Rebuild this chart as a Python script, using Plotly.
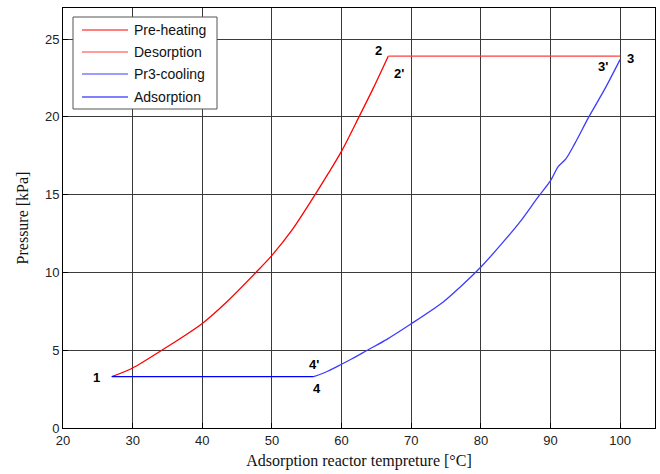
import plotly.graph_objects as go

# Cycle state points (temperature in °C, pressure in kPa)
P_LOW = 3.3
P_HIGH = 23.9

# 1 -> 2 : pre-heating (isosteric heating)
preheat_T = [27.0, 30.0, 34.4, 37.0, 40.0, 43.5, 47.7, 50.0, 53.0, 56.2, 58.0, 60.0, 62.5, 64.5, 66.7]
preheat_P = [3.3, 3.86, 5.06, 5.8, 6.72, 8.1, 10.0, 11.1, 12.8, 15.0, 16.3, 17.8, 20.0, 21.8, 23.9]

# 2 -> 3 : desorption (isobaric at condenser pressure)
desorp_T = [66.7, 100.0]
desorp_P = [P_HIGH, P_HIGH]

# 3 -> 4 : pre-cooling (isosteric cooling)
precool_T = [100.0, 97.8, 95.5, 93.5, 92.2, 91.1, 90.0, 88.3, 85.7, 83.0, 80.0,
             77.0, 74.6, 70.0, 66.5, 63.7, 61.5, 60.0, 58.0, 56.0]
precool_P = [23.7, 21.8, 20.0, 18.3, 17.3, 16.8, 15.9, 14.9, 13.3, 11.85, 10.35,
             9.05, 8.1, 6.7, 5.7, 5.0, 4.45, 4.1, 3.65, 3.3]

# 4 -> 1 : adsorption (isobaric at evaporator pressure)
adsorp_T = [56.0, 27.0]
adsorp_P = [P_LOW, P_LOW]

series_names = ["Pre-heating", "Desorption", "Pr3-cooling", "Adsorption"]
series_colors = ["#ff0000", "#ff3c3c", "#3c3cff", "#0000ff"]

x_ticks = [20, 30, 40, 50, 60, 70, 80, 90, 100]
y_ticks = [0, 5, 10, 15, 20, 25]

fig = go.Figure()
for name, color, xs, ys in zip(series_names, series_colors,
                               [preheat_T, desorp_T, precool_T, adsorp_T],
                               [preheat_P, desorp_P, precool_P, adsorp_P]):
    fig.add_trace(go.Scatter(x=xs, y=ys, mode="lines", name=name,
                             line=dict(color=color, width=1.3, shape="spline", smoothing=0.8),
                             showlegend=False))

# State-point labels, offset from the cycle corners
label_font = dict(family="Liberation Sans, Arial", size=13, color="black")
state_labels = [
    ("1", preheat_T[0], preheat_P[0], -15, -1),
    ("2", preheat_T[-1], preheat_P[-1], -10, 6),
    ("2'", preheat_T[-1], preheat_P[-1], 11, -17),
    ("3", desorp_T[-1], desorp_P[-1], 10, -2),
    ("3'", desorp_T[-1], desorp_P[-1], -17, -10),
    ("4'", adsorp_T[0], adsorp_P[0], 0, 12),
    ("4", adsorp_T[0], adsorp_P[0], 3, -12),
]
annotations = []
for txt, x, y, dx, dy in state_labels:
    annotations.append(dict(x=x, y=y, xref="x", yref="y", text="<b>%s</b>" % txt,
                            showarrow=False, xshift=dx, yshift=dy,
                            font=label_font))

# Legend drawn as a boxed key in the upper-left corner (pixel layout)
W, H = 660, 474
ml, mr, mt, mb = 63, 5, 8, 46
pw, ph = W - ml - mr, H - mt - mb


def px_x(p):
    return (p - ml) / pw


def px_y(p):
    return 1 - (p - mt) / ph


shapes = [dict(type="rect", xref="paper", yref="paper",
               x0=px_x(73), x1=px_x(217), y0=px_y(109), y1=px_y(17),
               line=dict(color="#555555", width=1), fillcolor="white", layer="above")]
row_y = [30, 52, 74, 97]
for name, color, ry in zip(series_names, series_colors, row_y):
    shapes.append(dict(type="line", xref="paper", yref="paper",
                       x0=px_x(82), x1=px_x(128), y0=px_y(ry), y1=px_y(ry),
                       line=dict(color=color, width=1.2), layer="above"))
    annotations.append(dict(x=px_x(132), y=px_y(ry), xref="paper", yref="paper",
                            text=name, showarrow=False, xanchor="left", yanchor="middle",
                            font=dict(family="Liberation Sans, Arial", size=14, color="#111")))

axis_common = dict(showgrid=True, gridcolor="#3a3a3a", gridwidth=1,
                   showline=True, linecolor="black", linewidth=1, mirror=True,
                   ticks="inside", ticklen=5, tickcolor="black", zeroline=False,
                   tickfont=dict(family="Liberation Sans, Arial", size=13, color="#222"))

fig.update_layout(
    width=W, height=H,
    margin=dict(l=ml, r=mr, t=mt, b=mb),
    paper_bgcolor="white", plot_bgcolor="white",
    xaxis=dict(range=[20, 105], tickvals=x_ticks,
               title=dict(text="Adsorption reactor tempreture [°C]", standoff=8,
                          font=dict(family="Liberation Serif, Times New Roman", size=16, color="#111")),
               **axis_common),
    yaxis=dict(range=[0, 27], tickvals=y_ticks,
               title=dict(text="Pressure [kPa]", standoff=12,
                          font=dict(family="Liberation Serif, Times New Roman", size=16, color="#111")),
               **axis_common),
    shapes=shapes,
    annotations=annotations,
)

fig.write_html("out.html")
